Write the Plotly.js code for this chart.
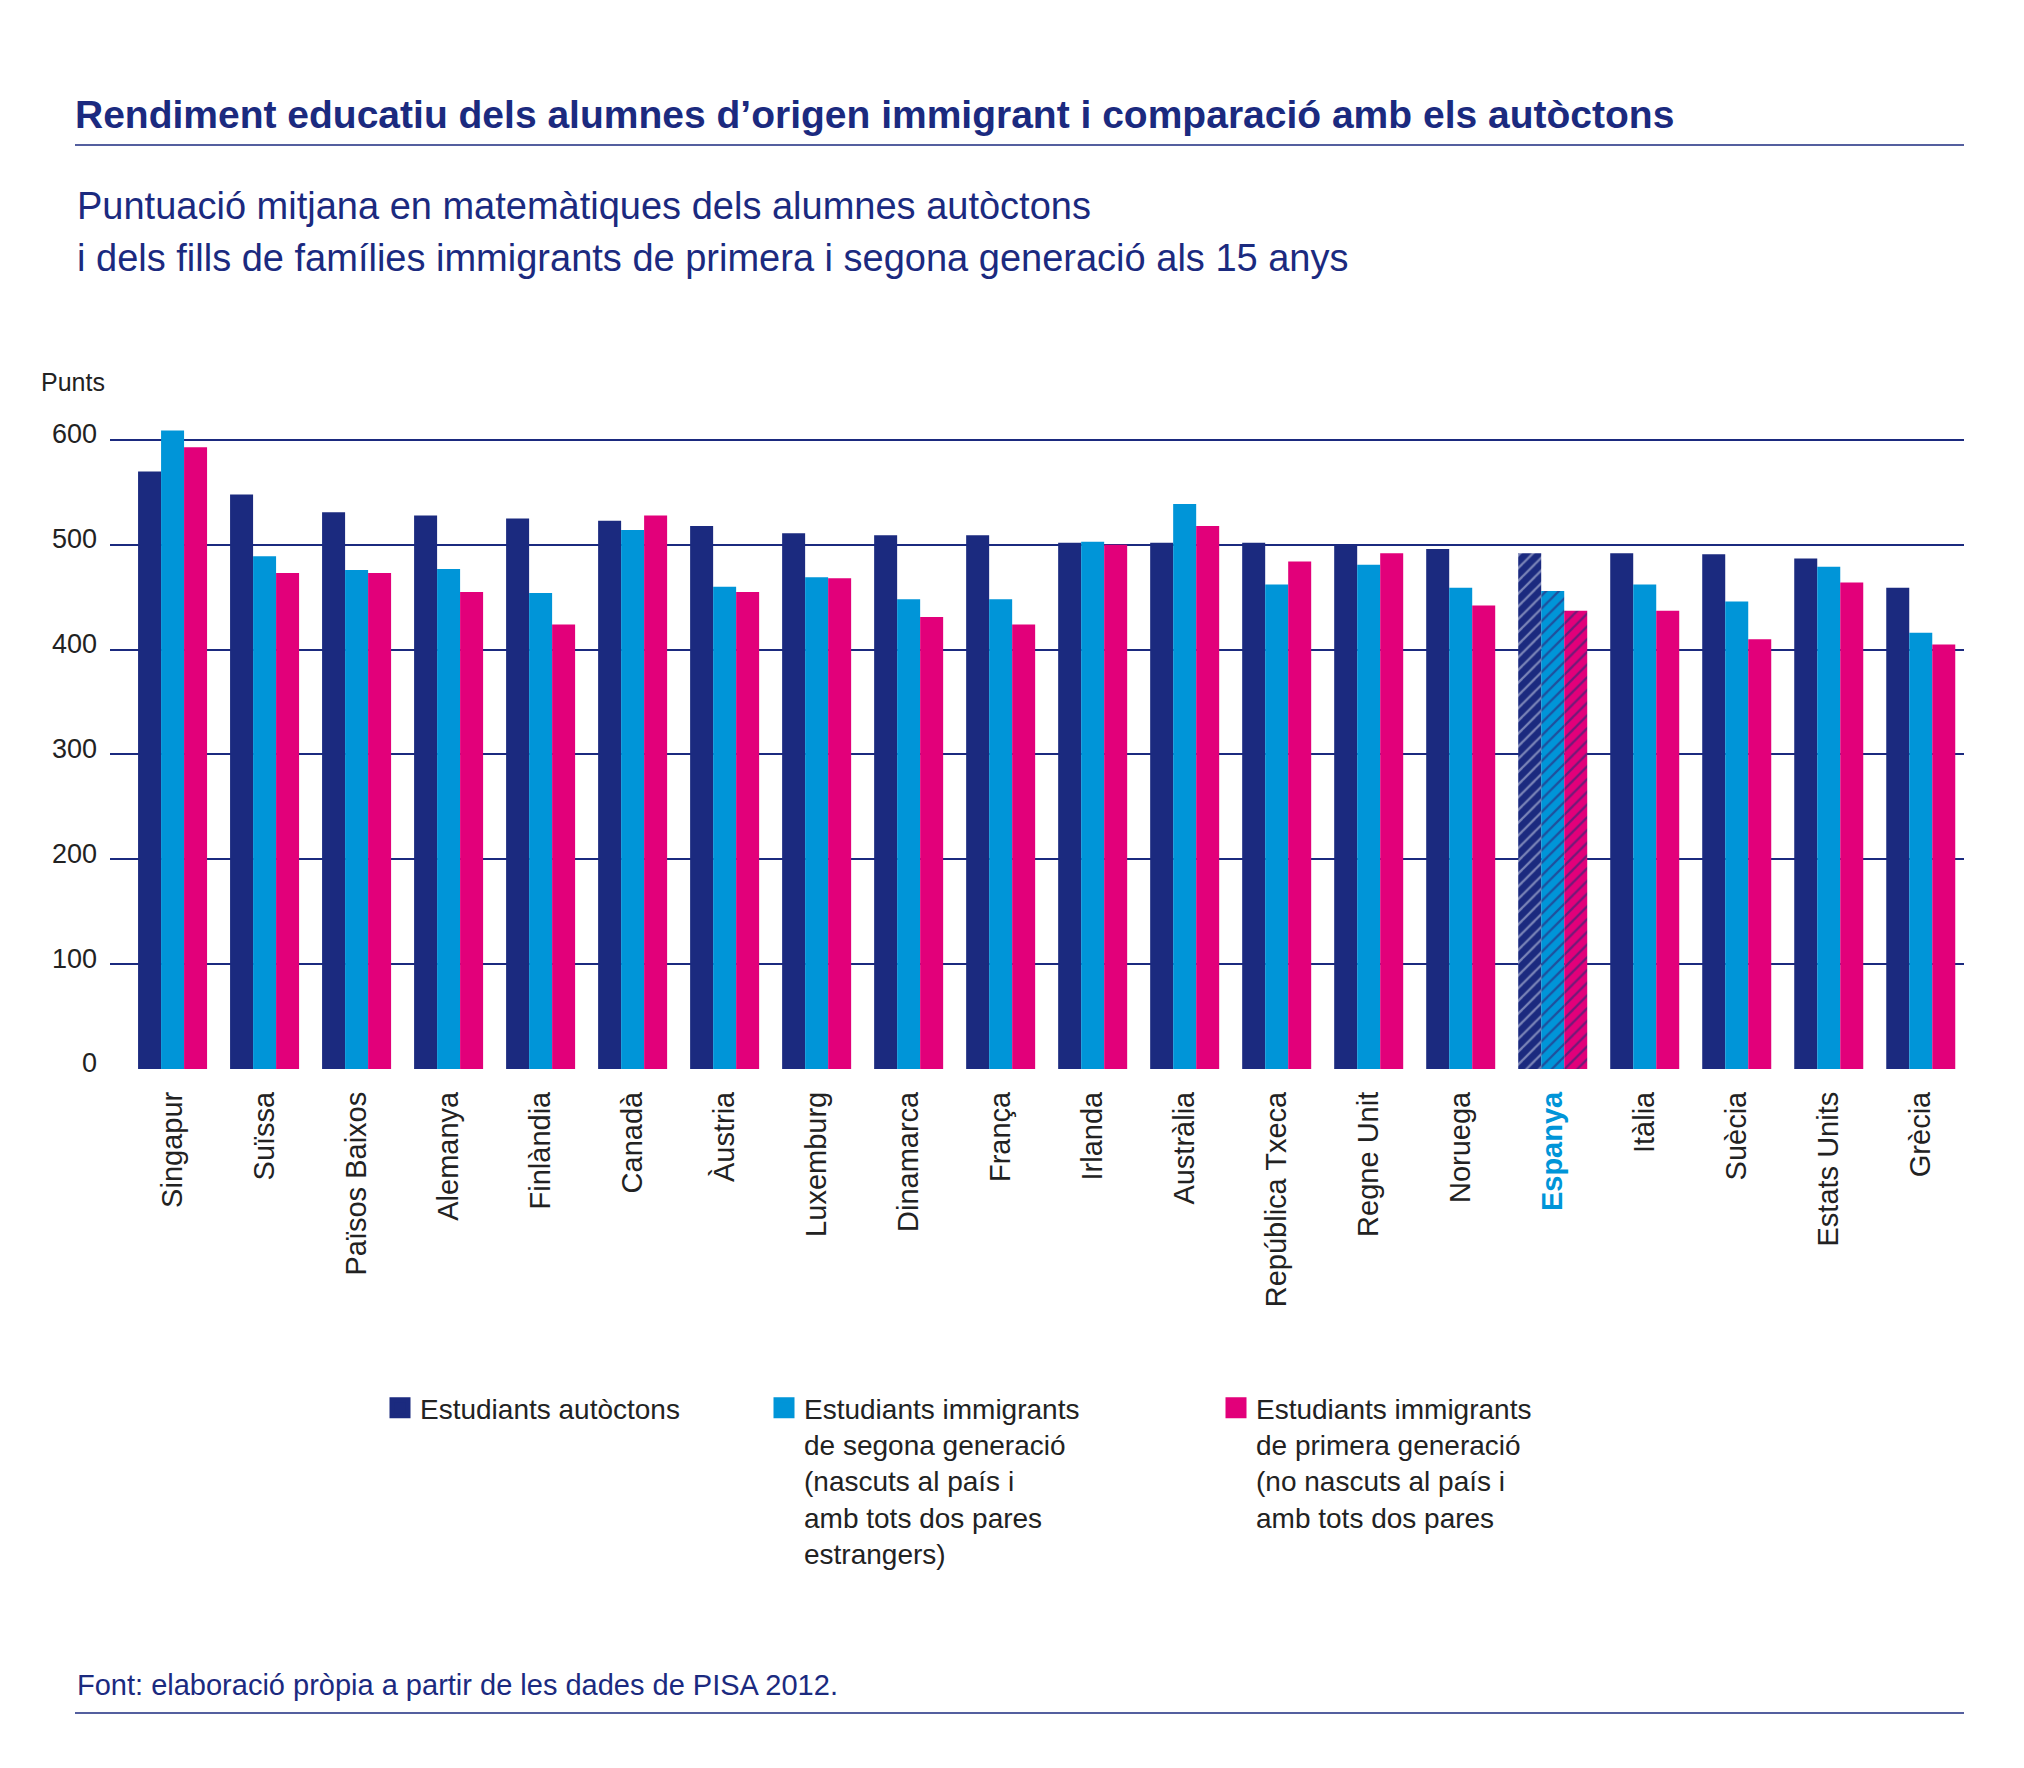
<!DOCTYPE html>
<html>
<head>
<meta charset="utf-8">
<script src="https://cdn.plot.ly/plotly-3.0.1.min.js"></script>
<style>
  html, body { margin: 0; padding: 0; background: #fff; }
  #chart { width: 2024px; height: 1768px; }
</style>
</head>
<body>
<div id="chart"></div>
<script>
// PISA 2012, puntuació mitjana en matemàtiques
const countries = ['Singapur','Suïssa','Països Baixos','Alemanya','Finlàndia','Canadà','Àustria','Luxemburg',
  'Dinamarca','França','Irlanda','Austràlia','República Txeca','Regne Unit','Noruega','Espanya',
  'Itàlia','Suècia','Estats Units','Grècia']
const autoctons = [570,548,531,528,525,523,518,511,509,509,502,502,502,500,496,492,492,491,487,459]
const segonaGen = [609,489,476,477,454,514,460,469,448,448,503,539,462,481,459,456,462,446,479,416]
const primeraGen = [593,473,473,455,424,528,455,468,431,424,500,518,484,492,442,437,437,410,464,405]
const highlight = 'Espanya'

const seriesNames = [
  'Estudiants autòctons',
  'Estudiants immigrants<br>de segona generació<br>(nascuts al país i<br>amb tots dos pares<br>estrangers)',
  'Estudiants immigrants<br>de primera generació<br>(no nascuts al país i<br>amb tots dos pares'
]
const yTicks = [0,100,200,300,400,500,600]

const navy = '#1b2a7f', cyan = '#0095d8', magenta = '#e2007a'
const txt = '#222222'
const font = 'Liberation Sans, Arial, sans-serif'

// plot box in pixels, used to place the extra texts and rules
const PL = 110, PR = 1964, PT = 398, PB = 1069
const px = x => (x - PL) / (PR - PL)
const py = y => (PB - y) / (PB - PT)

const ticktext = countries.map(c => c == highlight ? `<span style="color:${cyan}"><b>${c}</b></span>` : c)
const hatch = countries.map(c => c == highlight ? '/' : '')

const mkBar = (vals, color, stripe) => ({
  type: 'bar',
  x: countries,
  y: vals,
  showlegend: false,
  hoverinfo: 'x+y',
  marker: {
    color: color,
    line: {width: 0},
    pattern: {shape: hatch, bgcolor: color, fgcolor: stripe, fgopacity: 1, size: 9, solidity: 0.25}
  }
})

// legend-only entries so the squares come out bigger than a bar swatch
const mkKey = (name, color, legend) => ({
  type: 'scatter', mode: 'markers', x: [null], y: [null], name: name, legend: legend,
  marker: {symbol: 'square', size: 16, color: color, line: {width: 5, color: color}},
  hoverinfo: 'skip'
})

const traces = [
  mkBar(autoctons, navy, '#7c86b8'),
  mkBar(segonaGen, cyan, '#1f4f9c'),
  mkBar(primeraGen, magenta, '#6e1a78'),
  mkKey(seriesNames[0], navy, 'legend'),
  mkKey(seriesNames[1], cyan, 'legend2'),
  mkKey(seriesNames[2], magenta, 'legend3')
]

const legendBase = (x) => ({
  xref: 'container', yref: 'container',
  x: x / 2024, y: 1 - 1383 / 1768, xanchor: 'left', yanchor: 'top',
  bgcolor: 'rgba(0,0,0,0)', valign: 'top', itemclick: false,
  font: {family: font, size: 28, color: txt}
})

const layout = {
  width: 2024,
  height: 1768,
  paper_bgcolor: '#fff',
  plot_bgcolor: '#fff',
  margin: {l: PL, r: 2024 - PR, t: PT, b: 1768 - PB, autoexpand: false},
  font: {family: font, color: txt},
  title: {
    text: 'Rendiment educatiu dels alumnes d’origen immigrant i comparació amb els autòctons',
    xref: 'container', yref: 'container',
    x: 75 / 2024, xanchor: 'left',
    y: 1 - 114 / 1768, yanchor: 'middle',
    font: {family: font, size: 39, weight: 700, color: navy}
  },
  barmode: 'group',
  bargap: 0.25,
  bargroupgap: 0,
  xaxis: {
    type: 'category',
    range: [-0.68, 19.47],
    tickmode: 'array',
    tickvals: countries,
    ticktext: ticktext,
    tickangle: -90,
    ticks: '',
    ticklabelstandoff: 16,
    showgrid: false,
    showline: false,
    zeroline: false,
    tickfont: {family: font, size: 29, color: txt}
  },
  yaxis: {
    range: [0, 640],
    tickmode: 'array',
    tickvals: yTicks,
    ticks: '',
    ticklabelstandoff: 12,
    ticklabelshift: -6,
    showgrid: true,
    gridcolor: navy,
    gridwidth: 2,
    zeroline: false,
    showline: false,
    tickfont: {family: font, size: 27, color: txt}
  },
  showlegend: true,
  legend: legendBase(380),
  legend2: legendBase(764),
  legend3: legendBase(1216),
  shapes: [
    {type: 'line', xref: 'paper', yref: 'paper', x0: px(75), x1: px(1964), y0: py(145), y1: py(145),
     line: {color: navy, width: 1.5}},
    {type: 'line', xref: 'paper', yref: 'paper', x0: px(75), x1: px(1964), y0: py(1713), y1: py(1713),
     line: {color: navy, width: 1.5}}
  ],
  annotations: [
    {text: 'Puntuació mitjana en matemàtiques dels alumnes autòctons', xref: 'paper', yref: 'paper',
     x: px(75), y: py(206), xanchor: 'left', yanchor: 'middle', showarrow: false,
     font: {family: font, size: 38, color: navy}},
    {text: 'i dels fills de famílies immigrants de primera i segona generació als 15 anys', xref: 'paper', yref: 'paper',
     x: px(75), y: py(258), xanchor: 'left', yanchor: 'middle', showarrow: false,
     font: {family: font, size: 38, color: navy}},
    {text: 'Punts', xref: 'paper', yref: 'paper', x: px(39), y: py(382), xanchor: 'left', yanchor: 'middle',
     showarrow: false, font: {family: font, size: 25, color: txt}},
    {text: 'Font: elaboració pròpia a partir de les dades de PISA 2012.', xref: 'paper', yref: 'paper',
     x: px(75), y: py(1685), xanchor: 'left', yanchor: 'middle', showarrow: false,
     font: {family: font, size: 29, color: navy}}
  ]
}

Plotly.newPlot(document.getElementById('chart'), traces, layout, {displayModeBar: false, responsive: false})
</script>
</body>
</html>
